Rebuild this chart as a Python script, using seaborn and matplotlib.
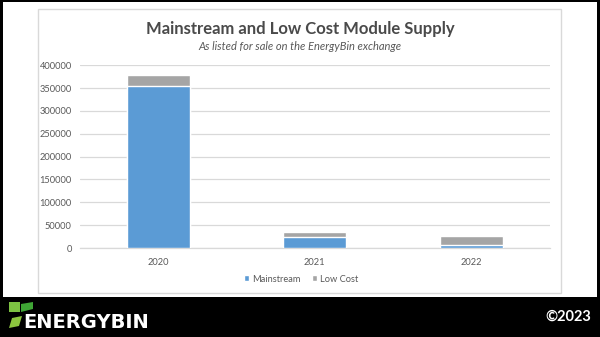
import matplotlib
matplotlib.use("Agg")
import matplotlib.pyplot as plt
from matplotlib.patches import Rectangle, Polygon
import seaborn as sns
import pandas as pd

# Module supply by year (units listed)
years = ["2020", "2021", "2022"]
mainstream = [355000, 24000, 5500]
low_cost = [23500, 12000, 20500]
y_ticks = [0, 50000, 100000, 150000, 200000, 250000, 300000, 350000, 400000]

sns.set_theme(style="white")
plt.rcParams["font.family"] = ["Lato", "DejaVu Sans"]

BLUE = "#5B9BD5"
GREY = "#A5A5A5"
TEXT = "#595959"
GRID = "#D9D9D9"

W, H = 600, 337
fig = plt.figure(figsize=(W / 100, H / 100), dpi=100)
fig.patch.set_facecolor("black")

def px(x0, y0, x1, y1):
    """Convert pixel box (top-left origin) into figure-fraction rectangle."""
    return (x0 / W, 1 - y1 / H, (x1 - x0) / W, (y1 - y0) / H)

# White page and the chart panel with its light border
bx, by, bw, bh = px(3, 2, 597, 297)
fig.add_artist(Rectangle((bx, by), bw, bh, transform=fig.transFigure,
                         facecolor="white", edgecolor="none", zorder=0))
bx, by, bw, bh = px(38, 9, 561, 293)
fig.add_artist(Rectangle((bx, by), bw, bh, transform=fig.transFigure,
                         facecolor="white", edgecolor=GRID, lw=1, zorder=1))

df = pd.DataFrame({"year": years, "Mainstream": mainstream, "Low Cost": low_cost})
df["total"] = df["Mainstream"] + df["Low Cost"]

ax = fig.add_axes(px(80, 65.3, 549.5, 248))
ax.set_facecolor("none")
ax.set_zorder(2)

# Stacked bars: total in grey, mainstream portion drawn over it in blue
sns.barplot(data=df, x="year", y="total", color=GREY, width=0.4,
            saturation=1, ax=ax, label="Low Cost", zorder=3)
sns.barplot(data=df, x="year", y="Mainstream", color=BLUE, width=0.4,
            saturation=1, ax=ax, label="Mainstream", zorder=4)

ax.set_xlim(-0.5, 2.5)
ax.set_ylim(0, 400000)
ax.set_yticks(y_ticks)
ax.set_yticklabels([str(v) for v in y_ticks])
ax.grid(axis="y", color=GRID, lw=0.9, zorder=0)
ax.set_axisbelow(True)
for s in ["top", "right", "left"]:
    ax.spines[s].set_visible(False)
ax.spines["bottom"].set_color(GRID)
ax.spines["bottom"].set_linewidth(0.9)
ax.tick_params(axis="both", length=0, labelsize=6.7, labelcolor=TEXT)
ax.tick_params(axis="y", pad=6)
ax.tick_params(axis="x", pad=7)
ax.set_xlabel("")
ax.set_ylabel("")

handles, labels = ax.get_legend_handles_labels()
order = [labels.index("Mainstream"), labels.index("Low Cost")]
leg = fig.legend([handles[i] for i in order], [labels[i] for i in order],
                 loc="center", bbox_to_anchor=(301 / W, 1 - 279 / H),
                 ncol=2, frameon=False, fontsize=6.7, handlelength=0.55,
                 handleheight=0.55, handletextpad=0.35, columnspacing=1.2)
for t in leg.get_texts():
    t.set_color(TEXT)
if ax.get_legend() is not None:
    ax.get_legend().remove()

fig.text(300 / W, 1 - 29 / H, "Mainstream and Low Cost Module Supply",
         ha="center", va="center", fontsize=12, fontweight="bold",
         color="#4A4A4A", zorder=5)
fig.text(300 / W, 1 - 47 / H, "As listed for sale on the EnergyBin exchange",
         ha="center", va="center", fontsize=8, style="italic", color=TEXT, zorder=5)

# Footer: logo leaves, brand name and copyright
leaves = [
    ([(9, 302), (20, 302), (20, 312), (9, 312)], "#7DC242"),
    ([(21, 312), (21, 304), (33, 302), (33, 309)], "#3FA535"),
    ([(9, 328), (12, 318), (22, 316), (19, 326)], "#8CC63F"),
]
for pts, col in leaves:
    fig.add_artist(Polygon([(x / W, 1 - y / H) for x, y in pts], closed=True,
                           transform=fig.transFigure, facecolor=col,
                           edgecolor="none", zorder=5))
fig.text(23 / W, 1 - 323 / H, "ENERGYBIN", ha="left", va="center",
         fontsize=14, color="white", fontweight="bold",
         family="DejaVu Sans", zorder=5)
fig.text(591 / W, 1 - 317 / H, "©2023", ha="right", va="center",
         fontsize=10.5, color="white", fontweight="bold", zorder=5)

fig.savefig("out.png", dpi=100, facecolor=fig.get_facecolor())
